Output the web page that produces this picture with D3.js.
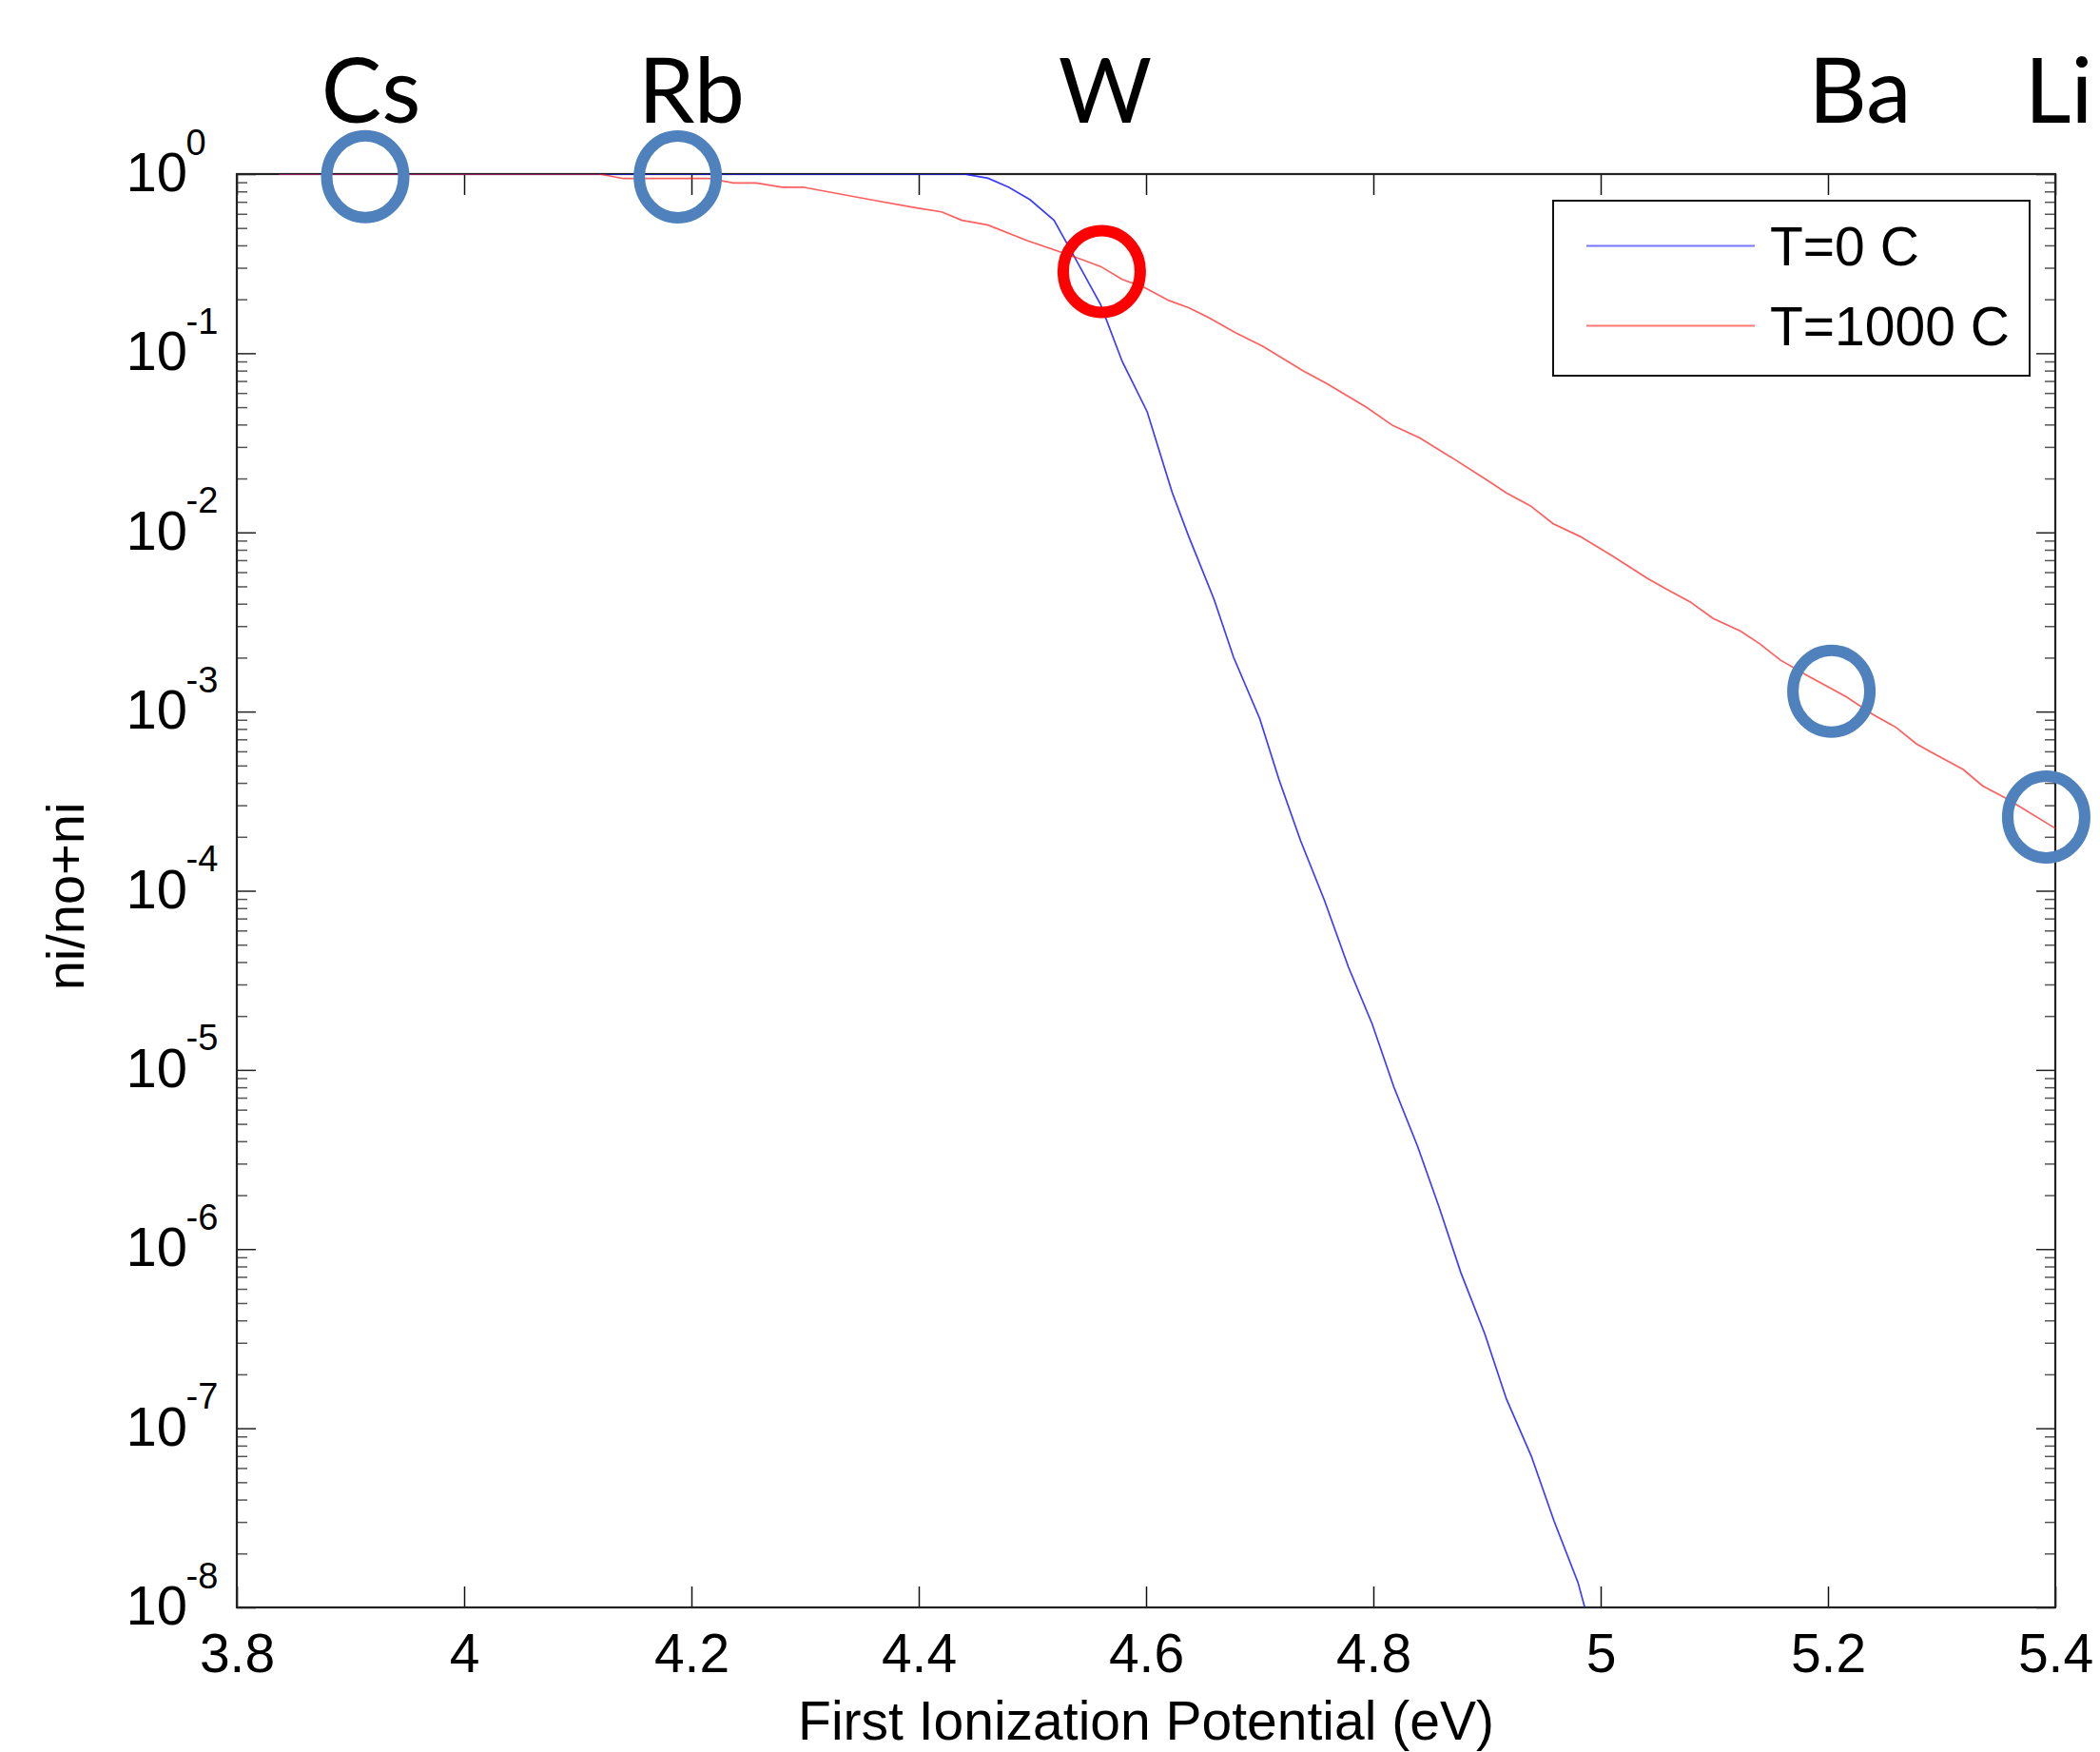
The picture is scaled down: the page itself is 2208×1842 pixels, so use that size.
<!DOCTYPE html>
<html>
<head>
<meta charset="utf-8">
<script src="https://cdn.jsdelivr.net/npm/d3@7"></script>
<style>
  html, body { margin: 0; padding: 0; background: #fff; }
  svg { display: block; }
</style>
</head>
<body>
<svg id="chart" width="2208" height="1842"></svg>
<script>
// ---------------- DATA ----------------
const xTicks = [3.8, 4.0, 4.2, 4.4, 4.6, 4.8, 5.0, 5.2, 5.4];
const xTickLabels = ["3.8", "4", "4.2", "4.4", "4.6", "4.8", "5", "5.2", "5.4"];
const yTickExponents = [0, -1, -2, -3, -4, -5, -6, -7, -8];

const seriesNames = ["T=0 C", "T=1000 C"];

// T = 0 C
const blueX = [3.837, 4.440, 4.461, 4.479, 4.498, 4.519, 4.537, 4.560, 4.579, 4.601,
               4.623, 4.637, 4.660, 4.677, 4.700, 4.717, 4.736, 4.757, 4.778, 4.799,
               4.818, 4.839, 4.858, 4.877, 4.898, 4.917, 4.939, 4.959, 4.980, 4.986];
const blueY = [1, 1, 0.948, 0.845, 0.719, 0.552, 0.345, 0.187, 0.090, 0.0471,
               0.0167, 0.00968, 0.0042, 0.00201, 0.000914, 0.000417, 0.00019, 8.83e-5, 3.76e-5, 1.80e-5,
               8.04e-6, 3.73e-6, 1.70e-6, 7.38e-7, 3.37e-7, 1.46e-7, 6.98e-8, 3.03e-8, 1.38e-8, 1e-8];

// T = 1000 C
const redX = [3.837, 4.119, 4.140, 4.216, 4.237, 4.257, 4.280, 4.298, 4.358, 4.397,
              4.420, 4.438, 4.461, 4.496, 4.537, 4.560, 4.579, 4.599, 4.620, 4.638,
              4.656, 4.679, 4.703, 4.738, 4.759, 4.794, 4.817, 4.841, 4.870, 4.900,
              4.917, 4.938, 4.958, 4.982, 5.011, 5.041, 5.058, 5.079, 5.099, 5.123,
              5.140, 5.158, 5.181, 5.216, 5.240, 5.260, 5.278, 5.295, 5.319, 5.336,
              5.357, 5.400];
const redY = [1, 1, 0.944, 0.944, 0.891, 0.891, 0.845, 0.845, 0.719, 0.649,
              0.615, 0.552, 0.519, 0.424, 0.345, 0.305, 0.258, 0.232, 0.197, 0.179,
              0.157, 0.130, 0.109, 0.0798, 0.0678, 0.0499, 0.0395, 0.0336, 0.0259, 0.0196,
              0.0166, 0.0141, 0.0112, 0.00948, 0.00735, 0.00555, 0.00482, 0.00408, 0.00331, 0.00281,
              0.00239, 0.00194, 0.00160, 0.00121, 0.000959, 0.000815, 0.000659, 0.000574, 0.000475, 0.000385,
              0.000327, 0.000223];

// Annotated elements (first ionization potential / work function)
const elements = ["Cs", "Rb", "W", "Ba", "Li"];
const elementIP = [3.913, 4.188, 4.561, 5.203, 5.392];
const elementFrac = [0.966, 0.964, 0.286, 0.0013, 0.000258];
const elementLabelX = [3.918, 4.200, 4.564, 5.228, 5.403];
const highlighted = "W";

// ---------------- LAYOUT / STYLE ----------------
const P = { left: 249, right: 2161, top: 183, bottom: 1690 };
const ARIAL = "'Liberation Sans', Arial, sans-serif";
const colors = { blue: "#1a1aff", red: "#ff2020", ring: "#4f81bd", ringHi: "#ff0000" };

const svg = d3.select("#chart");

const x = d3.scaleLinear().domain([3.8, 5.4]).range([P.left, P.right]);
const y = d3.scaleLog().domain([1e-8, 1]).range([P.bottom, P.top]);

const yMajor = yTickExponents.map(e => Math.pow(10, e));
const yMinor = [];
for (let d = -8; d < 0; d++) for (let k = 2; k <= 9; k++) yMinor.push(k * Math.pow(10, d));

// clip
svg.append("defs").append("clipPath").attr("id", "plotclip")
  .append("rect").attr("x", P.left).attr("y", P.top)
  .attr("width", P.right - P.left).attr("height", P.bottom - P.top);

// ---------------- AXES ----------------
function styleAxis(g, tickColor, tickW) {
  g.select(".domain").remove();
  g.selectAll(".tick line").attr("stroke", tickColor).attr("stroke-width", tickW);
}

// bottom
const gB = svg.append("g").attr("transform", `translate(0,${P.bottom})`)
  .call(d3.axisBottom(x).tickValues(xTicks).tickSize(-22).tickPadding(28)
    .tickFormat((d, i) => xTickLabels[i]));
styleAxis(gB, "#111", 1.5);
gB.selectAll(".tick text").attr("font-family", ARIAL).attr("font-size", 57).attr("fill", "#000");

// top
const gT = svg.append("g").attr("transform", `translate(0,${P.top})`)
  .call(d3.axisTop(x).tickValues(xTicks).tickSize(-22).tickFormat(""));
styleAxis(gT, "#111", 1.5);

// left major + minor
const gL = svg.append("g").attr("transform", `translate(${P.left},0)`)
  .call(d3.axisLeft(y).tickValues(yMajor).tickSize(-20).tickFormat(""));
styleAxis(gL, "#222", 1.5);
const gLm = svg.append("g").attr("transform", `translate(${P.left},0)`)
  .call(d3.axisLeft(y).tickValues(yMinor).tickSize(-11).tickFormat(""));
styleAxis(gLm, "#555", 1.5);

// right major + minor
const gR = svg.append("g").attr("transform", `translate(${P.right},0)`)
  .call(d3.axisRight(y).tickValues(yMajor).tickSize(-20).tickFormat(""));
styleAxis(gR, "#222", 1.5);
const gRm = svg.append("g").attr("transform", `translate(${P.right},0)`)
  .call(d3.axisRight(y).tickValues(yMinor).tickSize(-11).tickFormat(""));
styleAxis(gRm, "#555", 1.5);

// y tick labels 10^e
const yl = svg.append("g").attr("class", "ylabels");
yTickExponents.forEach(e => {
  const yy = y(Math.pow(10, e));
  yl.append("text").attr("x", 197).attr("y", yy + 18)
    .attr("text-anchor", "end").attr("font-family", ARIAL).attr("font-size", 58)
    .text("10");
  yl.append("text").attr("x", 195.5).attr("y", yy - 20.5)
    .attr("text-anchor", "start").attr("font-family", ARIAL).attr("font-size", 38)
    .text(String(e));
});

// box frame
svg.append("rect").attr("x", P.left).attr("y", P.top)
  .attr("width", P.right - P.left).attr("height", P.bottom - P.top)
  .attr("fill", "none").attr("stroke", "#222").attr("stroke-width", 2.2);

// ---------------- LINES ----------------
const line = d3.line().x(d => x(d[0])).y(d => y(d[1]));
const plot = svg.append("g").attr("clip-path", "url(#plotclip)");

plot.append("path").datum(blueX.map((v, i) => [v, blueY[i]]))
  .attr("d", line).attr("fill", "none")
  .attr("stroke", colors.blue).attr("stroke-opacity", 0.85).attr("stroke-width", 1.7);
plot.append("path").datum(redX.map((v, i) => [v, redY[i]]))
  .attr("d", line).attr("fill", "none")
  .attr("stroke", colors.red).attr("stroke-opacity", 0.72).attr("stroke-width", 1.7);

// ---------------- LEGEND ----------------
const leg = svg.append("g");
leg.append("rect").attr("x", 1633).attr("y", 211).attr("width", 501).attr("height", 184)
  .attr("fill", "#fff").attr("stroke", "#111").attr("stroke-width", 2);
const legColors = [colors.blue, colors.red];
const legOpac = [0.6, 0.6];
seriesNames.forEach((name, i) => {
  const ly = 258.5 + i * 84;
  leg.append("line").attr("x1", 1668).attr("x2", 1845).attr("y1", ly).attr("y2", ly)
    .attr("stroke", legColors[i]).attr("stroke-opacity", legOpac[i]).attr("stroke-width", 1.8);
  leg.append("text").attr("x", 1861).attr("y", ly + 20.5)
    .attr("font-family", ARIAL).attr("font-size", 57).text(name);
});

// ---------------- RINGS + ELEMENT LABELS ----------------
const rings = svg.append("g");
elements.forEach((el, i) => {
  rings.append("ellipse")
    .attr("cx", x(elementIP[i])).attr("cy", y(elementFrac[i]))
    .attr("rx", 40.5).attr("ry", 43)
    .attr("fill", "none")
    .attr("stroke", el === highlighted ? colors.ringHi : colors.ring)
    .attr("stroke-width", 12);
  svg.append("text").attr("x", x(elementLabelX[i])).attr("y", 129)
    .attr("text-anchor", "middle").attr("font-family", "Lato, 'Open Sans', sans-serif")
    .attr("font-size", 95).attr("fill", "#000").text(el);
});

// ---------------- AXIS TITLES ----------------
svg.append("text").attr("x", (P.left + P.right) / 2).attr("y", 1829)
  .attr("text-anchor", "middle").attr("font-family", ARIAL).attr("font-size", 57)
  .text("First Ionization Potential (eV)");
svg.append("text").attr("transform", `translate(88,${(P.top + P.bottom) / 2 + 6}) rotate(-90)`)
  .attr("text-anchor", "middle").attr("font-family", ARIAL).attr("font-size", 56)
  .text("ni/no+ni");
</script>
</body>
</html>
